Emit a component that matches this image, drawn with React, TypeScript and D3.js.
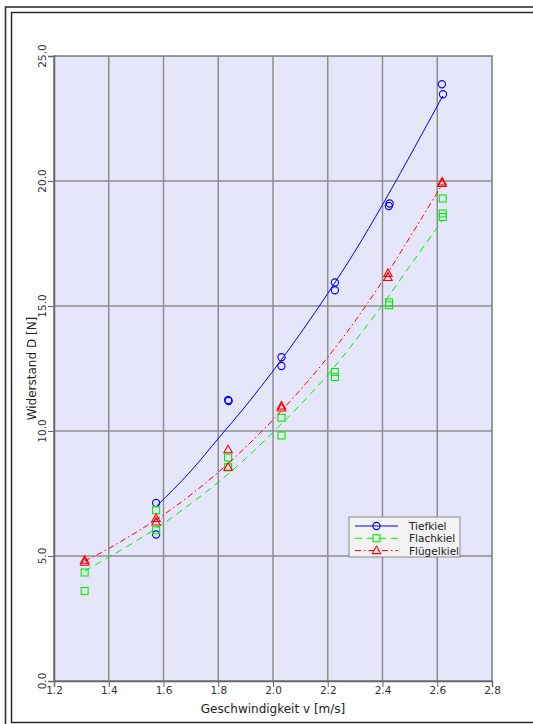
import React, {useEffect, useRef} from "react";
import * as d3 from "d3";

// measured points (v in m/s, D in N)
const tiefV = [1.573, 1.573, 1.836, 1.838, 2.031, 2.031, 2.226, 2.226, 2.426, 2.423, 2.617, 2.621];
const tiefD = [7.12, 5.86, 11.24, 11.2, 12.95, 12.6, 15.94, 15.63, 19.1, 19.0, 23.87, 23.47];

const flachV = [1.312, 1.312, 1.573, 1.573, 1.836, 1.836, 2.031, 2.031, 2.226, 2.226, 2.424, 2.424, 2.62, 2.62, 2.62];
const flachD = [4.34, 3.6, 6.83, 6.03, 8.94, 8.55, 10.53, 9.82, 12.36, 12.16, 15.14, 15.03, 19.3, 18.7, 18.56];

const fluegelV = [1.312, 1.312, 1.573, 1.573, 1.836, 1.836, 2.031, 2.031, 2.42, 2.42, 2.618, 2.618];
const fluegelD = [4.83, 4.75, 6.5, 6.36, 9.25, 8.55, 11.0, 10.92, 16.3, 16.14, 19.96, 19.9];

// fitted trend curves
const tiefFitV = [1.575, 1.7, 1.8, 1.9, 2.0, 2.1, 2.2, 2.3, 2.4, 2.5, 2.62];
const tiefFitD = [7.0, 8.4, 9.7, 11.0, 12.4, 13.9, 15.5, 17.2, 19.05, 21.0, 23.4];

const flachFitV = [1.312, 1.4, 1.5, 1.6, 1.7, 1.8, 1.9, 2.0, 2.1, 2.2, 2.3, 2.4, 2.5, 2.62];
const flachFitD = [4.4, 4.95, 5.6, 6.3, 7.1, 7.95, 8.9, 9.95, 11.05, 12.25, 13.6, 15.05, 16.6, 18.45];

const fluegelFitV = [1.312, 1.4, 1.5, 1.6, 1.7, 1.8, 1.9, 2.0, 2.1, 2.2, 2.3, 2.4, 2.5, 2.62];
const fluegelFitD = [4.8, 5.3, 5.95, 6.65, 7.45, 8.35, 9.35, 10.45, 11.65, 12.95, 14.4, 16.0, 17.75, 19.9];

const xTicks = [1.2, 1.4, 1.6, 1.8, 2.0, 2.2, 2.4, 2.6, 2.8];
const yTicks = [0, 5, 10, 15, 20, 25];

const legendLabels = ["Tiefkiel", "Flachkiel", "Flügelkiel"];

const FONT = "'DejaVu Sans', Verdana, sans-serif";

const App: React.FC = () => {
    const svgRef = useRef<SVGSVGElement | null>(null);

    useEffect(() => {
        if (!svgRef.current) return;
        const svg = d3.select(svgRef.current);
        svg.selectAll("*").remove();

        const left = 54, right = 492, top = 56, bottom = 681;

        const x = d3.scaleLinear().domain([1.2, 2.8]).range([left, right]);
        const y = d3.scaleLinear().domain([0, 25]).range([bottom, top]);

        // outer double frame
        svg.append("rect").attr("x", 5.5).attr("y", 7).attr("width", 540).attr("height", 730)
            .attr("fill", "white").attr("stroke", "#333").attr("stroke-width", 1.6);
        svg.append("rect").attr("x", 11.5).attr("y", 12.5).attr("width", 530).attr("height", 710)
            .attr("fill", "white").attr("stroke", "#222").attr("stroke-width", 1.4);

        // plot background
        svg.append("rect").attr("x", left).attr("y", top).attr("width", right - left).attr("height", bottom - top)
            .attr("fill", "#e6e6fa");

        // grid
        const grid = svg.append("g").attr("stroke", "#8e8e8e").attr("stroke-width", 1.5);
        xTicks.slice(1, -1).forEach(t => {
            grid.append("line").attr("x1", x(t)).attr("x2", x(t)).attr("y1", top).attr("y2", bottom);
        });
        yTicks.slice(1, -1).forEach(t => {
            grid.append("line").attr("x1", left).attr("x2", right).attr("y1", y(t)).attr("y2", y(t));
        });
        svg.append("rect").attr("x", left).attr("y", top).attr("width", right - left).attr("height", bottom - top)
            .attr("fill", "none").attr("stroke", "#7a7a7a").attr("stroke-width", 1.5);

        // axes
        const xAxis = svg.append("g").attr("transform", `translate(0,${bottom})`)
            .call(d3.axisBottom(x).tickValues(xTicks).tickSize(6).tickFormat(d3.format(".1f")));
        xAxis.select(".domain").attr("stroke", "#666").attr("stroke-width", 1.5);
        xAxis.selectAll(".tick line").attr("stroke", "#666");
        xAxis.selectAll("text").attr("font-family", FONT).attr("font-size", 10.5).attr("fill", "#333")
            .attr("y", 3).attr("dy", "0.95em");

        const yAxis = svg.append("g").attr("transform", `translate(${left},0)`)
            .call(d3.axisLeft(y).tickValues(yTicks).tickSize(6).tickFormat(d3.format(".1f")));
        yAxis.select(".domain").attr("stroke", "#666").attr("stroke-width", 1.5);
        yAxis.selectAll(".tick line").attr("stroke", "#666");
        yAxis.selectAll("text").remove();
        yTicks.forEach(t => {
            svg.append("text").attr("transform", `translate(46,${y(t)}) rotate(-90)`)
                .attr("text-anchor", "middle").attr("font-family", FONT).attr("font-size", 10.5)
                .attr("fill", "#333").text(d3.format(".1f")(t));
        });

        // axis titles
        svg.append("text").attr("x", (left + right) / 2).attr("y", 713).attr("text-anchor", "middle")
            .attr("font-family", FONT).attr("font-size", 12).attr("fill", "#222").text("Geschwindigkeit v [m/s]");
        svg.append("text").attr("transform", `translate(36,${(top + bottom) / 2}) rotate(-90)`)
            .attr("text-anchor", "middle").attr("font-family", FONT).attr("font-size", 12).attr("fill", "#222")
            .text("Widerstand D [N]");

        const line = d3.line<[number, number]>().x(d => x(d[0])).y(d => y(d[1])).curve(d3.curveMonotoneX);
        const zip = (a: number[], b: number[]) => a.map((v, i) => [v, b[i]] as [number, number]);

        const series = [
            {fitV: tiefFitV, fitD: tiefFitD, v: tiefV, d: tiefD, color: "#0000ff", dash: null, marker: "circle"},
            {fitV: flachFitV, fitD: flachFitD, v: flachV, d: flachD, color: "#00ee00", dash: "7,5", marker: "square"},
            {fitV: fluegelFitV, fitD: fluegelFitD, v: fluegelV, d: fluegelD, color: "#ff0000", dash: "6,3,1.5,3", marker: "triangle"},
        ];

        const drawMarker = (g: any, type: string, cx: number, cy: number, color: string) => {
            if (type === "circle") {
                g.append("circle").attr("cx", cx).attr("cy", cy).attr("r", 3.6)
                    .attr("fill", "none").attr("stroke", color).attr("stroke-width", 1.1);
            } else if (type === "square") {
                g.append("rect").attr("x", cx - 3.5).attr("y", cy - 3.5).attr("width", 7).attr("height", 7)
                    .attr("fill", "none").attr("stroke", color).attr("stroke-width", 1.1);
            } else {
                g.append("path").attr("d", `M${cx},${cy - 4.5}L${cx + 4.2},${cy + 3}L${cx - 4.2},${cy + 3}Z`)
                    .attr("fill", "none").attr("stroke", color).attr("stroke-width", 1.1);
            }
        };

        series.forEach(s => {
            svg.append("path").datum(zip(s.fitV, s.fitD)).attr("d", line)
                .attr("fill", "none").attr("stroke", s.color).attr("stroke-width", 1)
                .attr("stroke-dasharray", s.dash);
            const g = svg.append("g");
            s.v.forEach((v, i) => drawMarker(g, s.marker, x(v), y(s.d[i]), s.color));
        });

        // legend
        const lg = svg.append("g").attr("transform", "translate(349,517)");
        lg.append("rect").attr("width", 111).attr("height", 40).attr("fill", "#f2f2f2")
            .attr("stroke", "#888").attr("stroke-width", 1);
        series.forEach((s, i) => {
            const ly = 9 + i * 12.3;
            lg.append("line").attr("x1", 6).attr("x2", 49).attr("y1", ly).attr("y2", ly)
                .attr("stroke", s.color).attr("stroke-width", 1).attr("stroke-dasharray", s.dash);
            drawMarker(lg, s.marker, 27.5, ly, s.color);
            lg.append("text").attr("x", 60).attr("y", ly + 4).attr("font-family", FONT).attr("font-size", 10.5)
                .attr("fill", "#222").text(legendLabels[i]);
        });
    }, []);

    return (
        <svg ref={svgRef} width={533} height={724}
             style={{position: "absolute", left: 0, top: 0, background: "white"}}/>
    );
};

export default App;
